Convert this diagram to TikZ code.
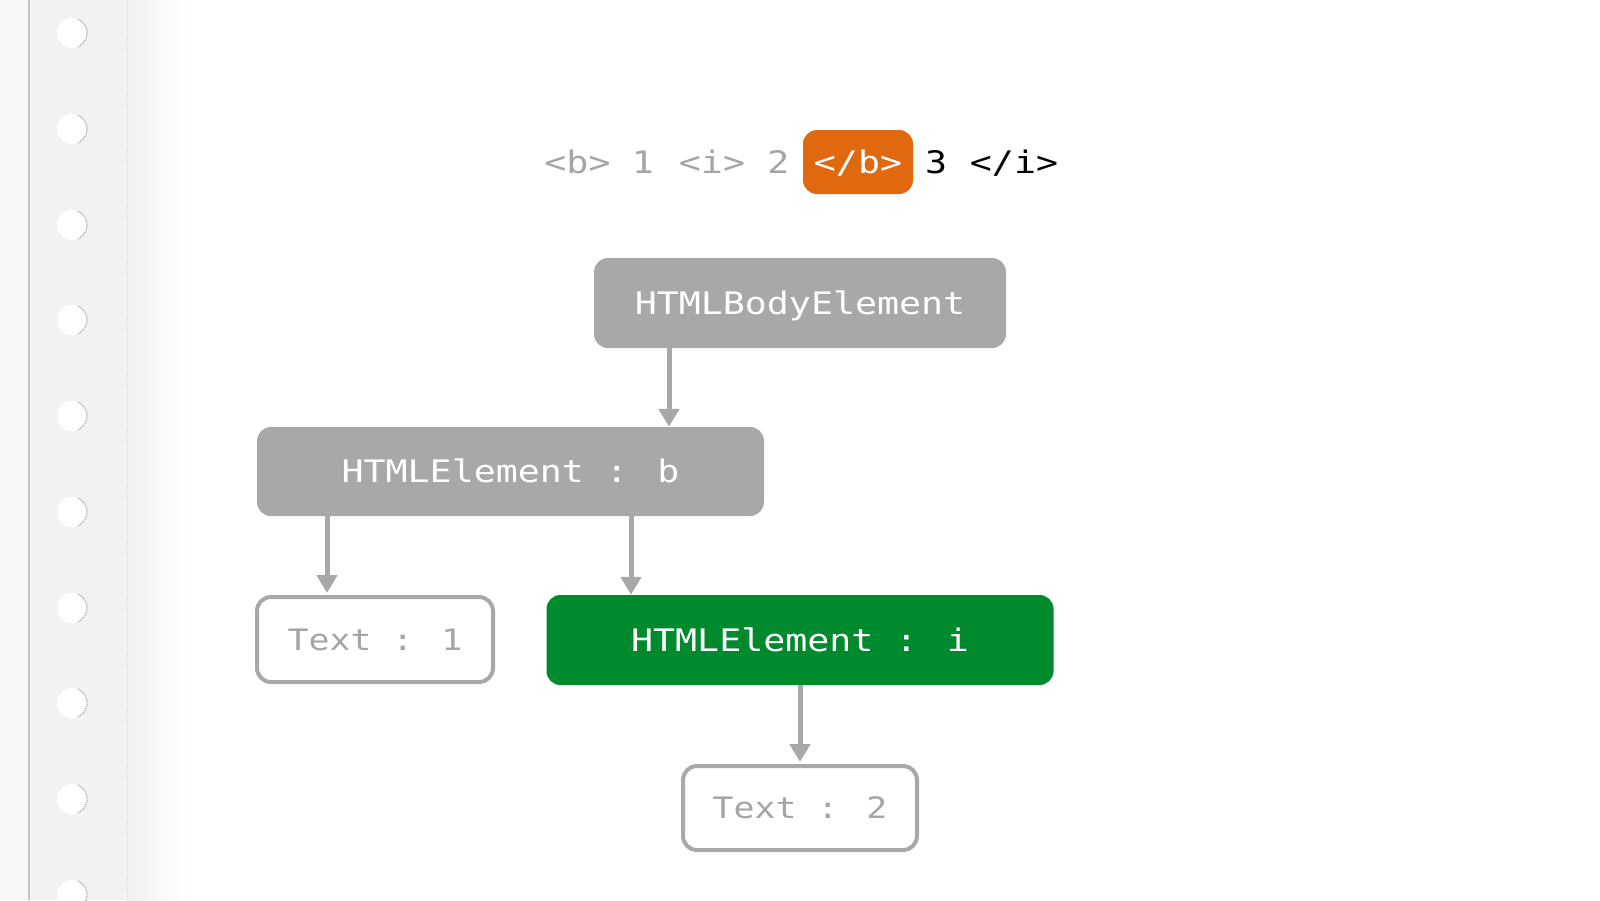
\documentclass[tikz,border=0pt]{standalone}
\usepackage{fontspec}
\usetikzlibrary{arrows.meta,calc}
\newfontfamily\monofnt[FakeStretch=1.18]{DejaVu Sans Mono}
\definecolor{boxgray}{HTML}{A6A9A8}
\definecolor{txtgray}{HTML}{A3A6A5}
\definecolor{orng}{HTML}{E0680F}
\definecolor{grn}{HTML}{008A2E}
\definecolor{strip}{HTML}{F2F2F2}
\definecolor{outerstrip}{HTML}{F7F7F7}
\definecolor{stripline}{HTML}{C4C4C4}
\definecolor{stripdots}{HTML}{D6D6D6}
\definecolor{holeedge}{HTML}{A8A8A8}
\tikzset{
  nodebox/.style={rounded corners=14pt, inner sep=0pt, text height=22.5pt, text depth=0pt,
    font=\monofnt\fontsize{31}{31}\selectfont},
  solidbox/.style={nodebox, fill=boxgray, text=white},
  greenbox/.style={nodebox, fill=grn, text=white},
  outbox/.style={nodebox, draw=boxgray, line width=4pt, fill=white, text=txtgray,
    font=\monofnt\fontsize{29.5}{29.5}\selectfont, text height=21.5pt},
  arr/.style={draw=boxgray, line width=5pt, -{Triangle[width=20pt,length=18pt]}},
  tok/.style={anchor=base, inner sep=0pt, font=\monofnt\fontsize{31}{31}\selectfont},
}
\begin{document}
\begin{tikzpicture}[x=1pt,y=-1pt]
\useasboundingbox (0,0) rectangle (1600,900);
\fill[white] (0,0) rectangle (1600,900);
% binder strip
\fill[outerstrip] (0,0) rectangle (29,900);
\fill[strip] (29,0) rectangle (127,900);
\shade[left color=strip, right color=white] (127,0) rectangle (190,900);
\draw[stripline, line width=1.2pt] (29,0) -- (29,900);
\draw[stripdots, line width=0.8pt, dotted] (127,0) -- (127,900);
\foreach \yy in {33,129,225,320,416,512,608,703,799,895} {
  \fill[white] (72,\yy) circle (15);
  \draw[holeedge, line width=1.2pt, densely dotted] (72,\yy) ++(-65:15) arc[start angle=-65, end angle=65, radius=15];
}
% top token row
\node[fill=orng, rounded corners=14pt, minimum width=110pt, minimum height=64pt, inner sep=0pt] (hl) at (858,162) {};
\node[tok, text=txtgray] (t1tok) at (577.5,173) {<b>};
\node[tok, text=txtgray] (t2tok) at (643,173) {1};
\node[tok, text=txtgray] (t3tok) at (712,173) {<i>};
\node[tok, text=txtgray] (t4tok) at (778.5,173) {2};
\node[tok, text=white] (t5tok) at (858,173) {</b>};
\node[tok, text=black] (t6tok) at (936,173) {3};
\node[tok, text=black] (t7tok) at (1014,173) {</i>};
% tree
\node[solidbox, minimum width=412pt, minimum height=90pt] (body) at (800,303) {HTMLBodyElement};
\node[solidbox, minimum width=507pt, minimum height=89pt] (b) at (510.5,471.5) {HTMLElement : b};
\node[outbox, minimum width=236pt, minimum height=85pt] (tx1) at (375,639.5) {Text : 1};
\node[greenbox, minimum width=507pt, minimum height=90pt] (i) at (800,640) {HTMLElement : i};
\node[outbox, minimum width=234pt, minimum height=84pt] (tx2) at (800,808) {Text : 2};
\draw[arr] (669,0 |- body.south) -- (669,0 |- b.north);
\draw[arr, shorten >=2pt] (327,0 |- b.south) -- (327,0 |- tx1.north);
\draw[arr] (631,0 |- b.south) -- (631,0 |- i.north);
\draw[arr, shorten >=2pt] (i.south) -- (tx2.north);
\end{tikzpicture}
\end{document}
